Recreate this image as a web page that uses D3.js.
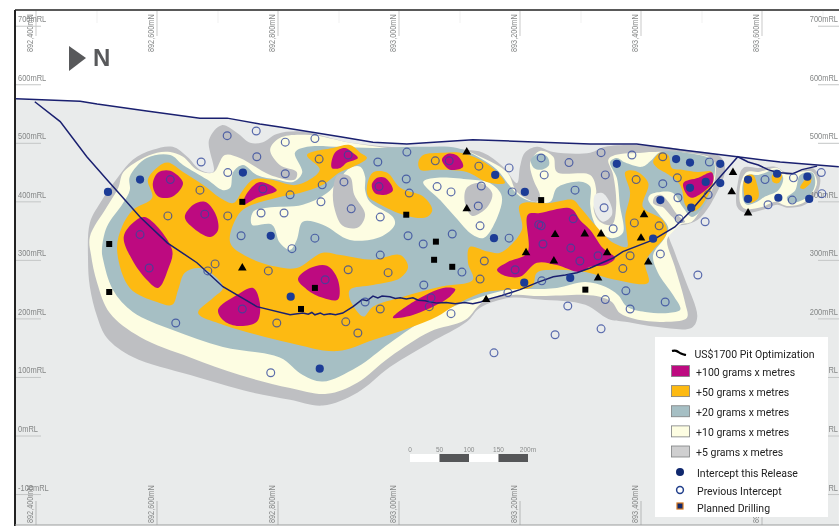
<!DOCTYPE html>
<html>
<head>
<meta charset="utf-8">
<script src="https://cdnjs.cloudflare.com/ajax/libs/d3/7.8.5/d3.min.js"></script>
<style>
html, body { margin: 0; padding: 0; background: #fff; }
svg { display: block; filter: blur(0.3px); }
</style>
</head>
<body>
<div id="chart"></div>
<script>
// all section values: [metres north of 892,400mN, RL in metres]
var terrain = [[-33,576],[73,572],[101,567],[183,555],[271,543],[316,543],[370,533],[403,528],[503,511],[557,502],[613,499],[722,506],[916,499],[993,499],[1065,489],[1159,477],[1230,468],[1327,460]];

var pitShell = [[-2,571],[40,537],[84,477],[117,438],[172,374],[217,330],[266,296],[309,255],[365,221],[420,207],[441,210],[450,208],[456,211],[461,207],[470,210],[476,207],[486,209],[495,207],[507,210],[524,221],[539,233],[547,231],[557,239],[565,236],[572,239],[585,238],[594,235],[602,236],[612,234],[623,236],[632,232],[643,231],[652,229],[663,227],[678,228],[693,226],[708,228],[722,226],[735,229],[745,233],[770,240],[800,250],[828,262],[855,272],[875,275],[894,279],[916,287],[954,304],[970,315],[1020,335],[1056,357],[1081,383],[1131,443],[1160,477],[1177,468],[1194,463],[1210,455],[1225,450],[1251,448],[1266,455],[1291,461]];

var grayMain = [[89,255],[86,301],[89,364],[106,398],[136,443],[160,472],[193,489],[226,494],[250,477],[271,455],[293,451],[286,506],[307,531],[332,518],[354,501],[375,502],[398,516],[441,520],[486,509],[519,501],[613,492],[712,489],[739,484],[772,460],[795,432],[800,460],[808,484],[828,494],[855,485],[916,484],[941,494],[1018,496],[1073,489],[1131,477],[1139,455],[1121,407],[1098,373],[1078,362],[1061,359],[1045,352],[1056,313],[1073,267],[1093,204],[1084,185],[1028,186],[974,195],[946,200],[908,224],[833,233],[784,236],[734,219],[712,195],[651,159],[585,118],[531,74],[474,52],[420,62],[354,75],[255,104],[160,135],[117,168],[101,204]];
var grayEast = [[1159,391],[1160,432],[1169,458],[1194,458],[1222,460],[1238,451],[1258,451],[1283,458],[1296,441],[1291,415],[1271,395],[1241,390],[1225,395],[1200,386],[1172,381]];
var grayStrip = [[1020,398],[1023,409],[1033,412],[1045,400],[1060,378],[1073,366],[1065,364],[1048,378],[1036,391],[1028,393]];
var grayMidA = [[491,420],[499,446],[519,443],[526,412],[544,378],[532,356],[507,359],[494,386]];
var grayMidB = [[709,398],[712,424],[734,432],[754,415],[746,391],[721,376]];
var bareHole = [[924,412],[936,415],[949,398],[952,378],[937,366],[924,383]];

var creamMain = [[101,262],[91,309],[89,340],[117,391],[136,424],[144,450],[172,472],[200,484],[222,485],[243,477],[266,455],[293,450],[312,480],[337,475],[387,446],[428,438],[431,451],[403,463],[387,489],[403,509],[453,514],[519,501],[613,489],[701,489],[739,475],[779,450],[795,417],[828,400],[833,410],[822,438],[817,467],[833,487],[855,477],[861,451],[916,446],[926,420],[922,386],[932,366],[952,361],[959,395],[954,446],[946,472],[957,480],[1002,484],[1018,485],[1073,484],[1119,472],[1121,432],[1098,386],[1084,366],[1065,361],[1051,347],[1043,335],[1056,289],[1073,227],[1076,202],[1045,195],[990,200],[965,210],[952,229],[932,238],[908,241],[833,239],[788,241],[739,229],[709,198],[651,178],[585,135],[531,91],[481,72],[420,82],[337,104],[255,134],[172,169],[122,210]];
var creamEast = [[1164,398],[1165,432],[1175,451],[1194,451],[1225,458],[1241,446],[1258,450],[1283,451],[1291,434],[1284,415],[1268,398],[1241,393],[1222,400],[1200,391],[1172,388]];
var creamPatchA = [[357,361],[359,383],[382,390],[441,395],[481,415],[519,458],[536,460],[544,443],[544,420],[552,400],[590,374],[593,361],[569,340],[519,335],[474,361],[441,366],[431,335],[420,318],[403,330],[390,361]];
var creamPatchB = [[640,434],[663,441],[717,438],[750,432],[770,409],[755,357],[739,338],[721,344],[693,374],[668,403]];

var blueMain = [[111,301],[109,318],[117,357],[144,398],[155,420],[155,443],[183,475],[222,480],[243,463],[283,438],[309,420],[321,424],[326,451],[342,463],[365,446],[398,438],[425,434],[440,450],[428,484],[448,494],[503,494],[557,492],[635,494],[696,492],[734,475],[762,455],[784,426],[800,409],[822,400],[850,400],[861,424],[888,434],[904,434],[916,426],[916,395],[921,369],[932,349],[952,338],[970,347],[965,395],[960,441],[949,468],[960,475],[974,467],[1002,460],[1018,472],[1032,485],[1073,484],[1119,470],[1119,432],[1103,391],[1084,374],[1069,391],[1053,415],[1032,417],[1015,412],[1012,403],[1028,381],[1045,356],[1040,340],[1020,309],[1028,279],[1053,241],[1065,216],[1045,210],[1007,212],[977,221],[962,241],[941,255],[908,263],[861,253],[820,251],[779,250],[689,221],[651,204],[585,159],[531,118],[474,93],[441,104],[403,134],[309,152],[226,181],[160,212],[127,250]];
var blueEastA = [[1169,403],[1169,434],[1177,446],[1194,446],[1225,455],[1235,441],[1227,420],[1205,409],[1192,400],[1175,395]];
var blueEastB = [[1241,407],[1255,420],[1263,446],[1283,450],[1288,432],[1280,412],[1260,400],[1246,398]];
var blueSpot = [[818,472],[830,482],[845,477],[848,463],[836,455],[823,458]];

var orangeMain = [[134,318],[142,357],[160,386],[192,407],[185,438],[202,460],[218,467],[243,451],[276,429],[304,407],[326,398],[342,420],[359,438],[387,438],[431,429],[469,455],[448,480],[491,492],[519,497],[536,484],[547,475],[524,460],[503,451],[474,429],[436,415],[398,407],[349,391],[332,374],[321,330],[349,306],[398,289],[431,287],[474,313],[503,309],[557,301],[602,309],[615,289],[602,270],[557,258],[519,250],[519,233],[541,204],[557,221],[607,238],[668,255],[722,267],[714,296],[717,323],[747,315],[767,313],[803,352],[800,395],[850,398],[888,403],[899,391],[927,357],[954,330],[977,323],[977,340],[974,374],[982,415],[974,451],[990,453],[1012,432],[1003,391],[1036,369],[1043,349],[1036,335],[1023,321],[1007,296],[1012,262],[957,267],[908,280],[861,284],[828,279],[820,255],[779,250],[739,245],[689,221],[663,204],[618,185],[557,164],[498,145],[420,159],[365,173],[309,190],[268,210],[293,236],[309,253],[299,270],[271,287],[246,279],[235,250],[225,224],[200,229],[155,253]];
var orangeIsle = [[547,426],[557,450],[580,450],[602,424],[640,409],[655,386],[646,374],[613,376],[564,398],[549,409]];
var orangeTop = [[632,468],[640,480],[673,484],[701,484],[734,472],[762,451],[775,432],[745,434],[712,451],[668,455],[635,455]];
var orangeRidge = [[1020,468],[1032,484],[1045,480],[1051,458],[1068,455],[1094,451],[1117,451],[1119,432],[1098,391],[1084,383],[1073,395],[1068,420],[1061,434],[1040,450],[1027,458]];
var orangeEastA = [[1172,443],[1185,446],[1192,429],[1194,407],[1180,398],[1172,407]];
var orangeEastB = [[1217,446],[1233,446],[1227,432],[1218,434]];
var orangeEastC = [[1268,434],[1280,446],[1281,434],[1268,422],[1263,424]];

var magentaPods = [
  [[145,340],[160,364],[180,374],[225,318],[218,284],[202,253],[183,267],[159,301]],
  [[193,429],[202,450],[222,453],[243,432],[226,409],[202,409]],
  [[246,374],[260,395],[279,400],[296,381],[301,352],[288,340],[258,357]],
  [[342,395],[349,415],[370,434],[398,420],[365,407]],
  [[489,458],[494,484],[511,492],[522,485],[532,475],[514,467],[503,458]],
  [[555,429],[564,441],[577,441],[590,420],[577,412],[560,415]],
  [[671,472],[681,482],[696,479],[706,460],[684,455]],
  [[433,268],[453,287],[481,291],[499,267],[499,233],[474,236],[448,250]],
  [[301,216],[332,241],[359,253],[370,227],[365,195],[332,188],[309,198]],
  [[590,202],[630,233],[673,253],[693,251],[684,238],[656,221],[613,204]],
  [[762,284],[779,297],[812,313],[813,378],[833,381],[878,390],[888,386],[899,369],[916,352],[937,321],[957,304],[941,292],[916,289],[899,280],[861,292],[828,296],[800,272],[772,275]],
  [[1070,432],[1095,441],[1117,450],[1119,434],[1103,417],[1084,407],[1076,412]]
];

var releaseHoles = [[119,417],[172,438],[342,450],[388,342],[421,238],[469,115],[759,446],[808,417],[757,338],[807,262],[883,270],[960,465],[1058,473],[1081,467],[1131,465],[1081,424],[1107,434],[1131,432],[1032,403],[1083,390],[1020,337],[1177,438],[1177,405],[1225,448],[1227,407],[1275,443],[1278,405]];

var previousHoles = [[316,513],[364,521],[273,468],[412,502],[461,508],[365,477],[412,448],[317,450],[468,473],[516,480],[222,438],[271,420],[375,422],[420,412],[473,429],[509,434],[471,400],[521,388],[372,381],[410,381],[218,376],[279,379],[317,376],[339,342],[461,338],[172,344],[423,320],[187,287],[296,294],[384,282],[284,282],[516,284],[478,267],[341,217],[231,193],[398,193],[582,279],[641,258],[544,229],[569,217],[512,195],[532,176],[388,108],[613,485],[565,468],[612,439],[567,426],[617,415],[569,374],[660,470],[683,470],[732,461],[782,458],[835,475],[881,467],[840,446],[663,426],[686,417],[736,427],[787,417],[891,420],[731,393],[734,359],[615,342],[640,328],[688,345],[782,338],[569,309],[741,299],[704,280],[734,268],[653,236],[650,221],[686,209],[780,245],[879,222],[831,361],[835,359],[888,371],[838,328],[884,321],[899,299],[792,284],[836,265],[934,484],[985,480],[941,446],[1036,477],[1113,468],[992,438],[1036,431],[1060,441],[1111,412],[1061,407],[939,390],[954,354],[989,364],[1030,359],[1063,371],[1106,366],[929,308],[982,308],[970,286],[1032,311],[1094,275],[975,248],[941,233],[1040,229],[982,217],[934,183],[1205,438],[1252,441],[1298,450],[1299,414],[1250,403],[1210,395],[757,142],[858,173]];

var triangleHoles = [[341,287],[712,485],[712,388],[810,313],[858,344],[907,345],[856,299],[744,233],[934,345],[944,313],[1005,378],[1000,338],[1012,297],[929,270],[1152,450],[1150,417],[1177,381]];

var plannedHoles = [[121,328],[121,246],[341,400],[461,253],[438,217],[612,378],[661,332],[658,301],[688,289],[835,403],[908,250]];

var northingTicks = [0,200,400,600,800,1000,1200];
var rlTicks = [700,600,500,400,300,200,100,0,-100];
var legendLabels = ["+100 grams x metres","+50 grams x metres","+20 grams x metres","+10 grams x metres","+5 grams x metres"];
var legendColors = ["#bd0a80","#fdba12","#a6bfc4","#fdfde2","#cfcfd0"];
var markerLabels = ["Intercept this Release","Previous Intercept","Planned Drilling"];
var scaleBarStops = [0,50,100,150,200];

var w = 839, h = 526;
var navy = "#1a2070";

var x = d3.scaleLinear().domain([0, 200]).range([36, 157]);
var y = d3.scaleLinear().domain([500, 0]).range([143.3, 436]);

var svg = d3.select("#chart").append("svg").attr("width", w).attr("height", h);

//ground under the surface line
var ground = d3.area()
    .x(function (d) { return x(d[0]); })
    .y0(525)
    .y1(function (d) { return y(d[1]); });

svg.append("path").attr("d", ground(terrain)).style("fill", "#e9ebeb");

//every zone is a smoothed closed outline, painted from the lowest grade up
var outline = d3.line()
    .x(function (d) { return x(d[0]); })
    .y(function (d) { return y(d[1]); })
    .curve(d3.curveCatmullRomClosed.alpha(0.5));

var zones = [
  { fill: "#bebfc2", shapes: [grayMain, grayEast] },
  { fill: "#fdfde2", shapes: [creamMain, creamEast] },
  { fill: "#e9ebeb", shapes: [bareHole] },
  { fill: "#a6bfc4", shapes: [blueMain, blueEastA, blueEastB, blueSpot] },
  { fill: "#bebfc2", shapes: [grayStrip] },
  { fill: "#fdfde2", shapes: [creamPatchA, creamPatchB] },
  { fill: "#bebfc2", shapes: [grayMidA, grayMidB] },
  { fill: "#fdba12", shapes: [orangeMain, orangeIsle, orangeTop, orangeRidge, orangeEastA, orangeEastB, orangeEastC] },
  { fill: "#bd0a80", shapes: magentaPods }
];

zones.forEach(function (z) {
    svg.append("g").selectAll("path")
        .data(z.shapes)
        .enter()
        .append("path")
        .attr("d", outline)
        .style("fill", z.fill);
});

//grid marks and labels
var grid = svg.append("g");

grid.selectAll(".minor")
    .data(northingTicks)
    .enter()
    .append("rect")
    .attr("x", function (d) { return x(d + 100); })
    .attr("y", 11)
    .attr("width", 1)
    .attr("height", 12)
    .style("fill", "#f1f1f1");

grid.selectAll(".top")
    .data(northingTicks)
    .enter()
    .append("line")
    .attr("x1", function (d) { return x(d); })
    .attr("x2", function (d) { return x(d); })
    .attr("y1", 11)
    .attr("y2", 36)
    .style("stroke", "#c9c9c9");

grid.selectAll(".bottom")
    .data(northingTicks)
    .enter()
    .append("line")
    .attr("x1", function (d) { return x(d); })
    .attr("x2", function (d) { return x(d); })
    .attr("y1", 501)
    .attr("y2", 525)
    .style("stroke", "#b5b7b7");

//the source figure is squeezed sideways, so its lettering is narrow
function northLabels(baseline) {
    grid.selectAll(".n" + baseline)
        .data(northingTicks)
        .enter()
        .append("text")
        .attr("transform", function (d) { return "translate(" + (x(d) - 3) + "," + baseline + ") rotate(-90) scale(0.86,1)"; })
        .style("font", "8.5px 'Liberation Sans'")
        .style("fill", "#858787")
        .text(function (d) { return d3.format(",")(892400 + d) + "mN"; });
}
northLabels(52);
northLabels(523);

[[16, 41, 18, "start"], [818, 839, 838, "end"]].forEach(function (side) {
    grid.selectAll(".rl" + side[0])
        .data(rlTicks)
        .enter()
        .append("line")
        .attr("x1", side[0])
        .attr("x2", side[1])
        .attr("y1", function (d) { return y(d); })
        .attr("y2", function (d) { return y(d); })
        .style("stroke", "#c4c6c6");
    grid.selectAll(".rlt" + side[0])
        .data(rlTicks)
        .enter()
        .append("text")
        .attr("transform", function (d) { return "translate(" + side[2] + "," + (y(d) - 4) + ") scale(0.88,1)"; })
        .attr("text-anchor", side[3])
        .style("font", "8.5px 'Liberation Sans'")
        .style("fill", "#858787")
        .text(function (d) { return d + "mRL"; });
});

//surface and pit shell
var traced = d3.line()
    .x(function (d) { return x(d[0]); })
    .y(function (d) { return y(d[1]); });

svg.append("path").attr("d", traced(terrain))
    .style("fill", "none").style("stroke", navy).style("stroke-width", 1.5);
svg.append("path").attr("d", traced(pitShell))
    .style("fill", "none").style("stroke", navy).style("stroke-width", 1.5);

//drill holes
var holes = svg.append("g");

holes.selectAll(".prev")
    .data(previousHoles)
    .enter()
    .append("circle")
    .attr("cx", function (d) { return x(d[0]); })
    .attr("cy", function (d) { return y(d[1]); })
    .attr("r", 3.9)
    .style("fill", "none")
    .style("stroke", "#33489c")
    .style("stroke-opacity", 0.8)
    .style("stroke-width", 1.2);

holes.selectAll(".release")
    .data(releaseHoles)
    .enter()
    .append("circle")
    .attr("cx", function (d) { return x(d[0]); })
    .attr("cy", function (d) { return y(d[1]); })
    .attr("r", 4.1)
    .style("fill", "#1c3c96");

holes.selectAll(".tri")
    .data(triangleHoles)
    .enter()
    .append("path")
    .attr("d", d3.symbol().type(d3.symbolTriangle).size(32))
    .attr("transform", function (d) { return "translate(" + x(d[0]) + "," + y(d[1]) + ")"; })
    .style("fill", "#000");

holes.selectAll(".planned")
    .data(plannedHoles)
    .enter()
    .append("path")
    .attr("d", d3.symbol().type(d3.symbolSquare).size(36))
    .attr("transform", function (d) { return "translate(" + x(d[0]) + "," + y(d[1]) + ")"; })
    .style("fill", "#000");

//frame
svg.append("line").attr("x1", 15).attr("x2", w).attr("y1", 10).attr("y2", 10)
    .style("stroke", "#222").style("stroke-width", 1.5);
svg.append("line").attr("x1", 15).attr("x2", 15).attr("y1", 10).attr("y2", h)
    .style("stroke", "#222").style("stroke-width", 2);
svg.append("line").attr("x1", 15).attr("x2", w).attr("y1", 525).attr("y2", 525)
    .style("stroke", "#9a9c9c");

//north arrow
svg.append("path").attr("d", d3.line()([[69, 46], [86, 58], [69, 71]]) + "Z").style("fill", "#58595b");
svg.append("text").attr("x", 93).attr("y", 66)
    .style("font", "bold 24px 'Liberation Sans'")
    .style("fill", "#58595b")
    .text("N");

//scale bar
var bar = d3.scaleLinear().domain([0, 200]).range([410, 528]);

svg.selectAll(".bar")
    .data(scaleBarStops.slice(0, 4))
    .enter()
    .append("rect")
    .attr("x", function (d) { return bar(d); })
    .attr("y", 454)
    .attr("width", bar(50) - bar(0))
    .attr("height", 8)
    .style("fill", function (d, i) { return i % 2 ? "#555658" : "#fff"; });

svg.selectAll(".barText")
    .data(scaleBarStops)
    .enter()
    .append("text")
    .attr("x", function (d) { return bar(d); })
    .attr("y", 451.5)
    .attr("text-anchor", "middle")
    .style("font", "6.5px 'Liberation Sans'")
    .style("fill", "#8a8c8c")
    .text(function (d) { return d == 200 ? "200m" : d; });

//legend
var legend = svg.append("g");
var legendFont = "11.5px Roboto";

function squeezed(px, py) {
    return "translate(" + px + "," + py + ") scale(0.915,1)";
}

legend.append("rect").attr("x", 655).attr("y", 337).attr("width", 173).attr("height", 180).style("fill", "#fff");

legend.append("path")
    .attr("d", d3.line().curve(d3.curveBasis)([[672, 351], [676, 350], [681, 354], [686, 355]]))
    .style("fill", "none").style("stroke", "#000").style("stroke-width", 2.2);
legend.append("text").attr("transform", squeezed(694.5, 358))
    .style("font", legendFont).style("fill", "#222")
    .text("US$1700 Pit Optimization");

var row = d3.scaleLinear().domain([0, 4]).range([365.5, 446]);

legend.selectAll(".swatch")
    .data(legendLabels)
    .enter()
    .append("rect")
    .attr("x", 671.5)
    .attr("y", function (d, i) { return row(i); })
    .attr("width", 18)
    .attr("height", 11)
    .style("fill", function (d, i) { return legendColors[i]; })
    .style("stroke", "#7d7f80")
    .style("stroke-width", 0.8);

legend.selectAll(".swatchText")
    .data(legendLabels)
    .enter()
    .append("text")
    .attr("transform", function (d, i) { return squeezed(696, row(i) + 10); })
    .style("font", legendFont)
    .style("fill", "#222")
    .text(function (d) { return d; });

var markerRow = d3.scaleLinear().domain([0, 2]).range([477, 512]);

legend.selectAll(".markerText")
    .data(markerLabels)
    .enter()
    .append("text")
    .attr("transform", function (d, i) { return squeezed(697, markerRow(i)); })
    .style("font", legendFont)
    .style("fill", "#222")
    .text(function (d) { return d; });

legend.append("circle").attr("cx", 680).attr("cy", 472).attr("r", 4).style("fill", "#10286e");
legend.append("circle").attr("cx", 680).attr("cy", 490).attr("r", 3.4)
    .style("fill", "#fff").style("stroke", "#22408c").style("stroke-width", 1.5);
legend.append("rect").attr("x", 677).attr("y", 503).attr("width", 6).attr("height", 6)
    .style("fill", "#10286e").style("stroke", "#d2761e").style("stroke-width", 1.2);
</script>
</body>
</html>
